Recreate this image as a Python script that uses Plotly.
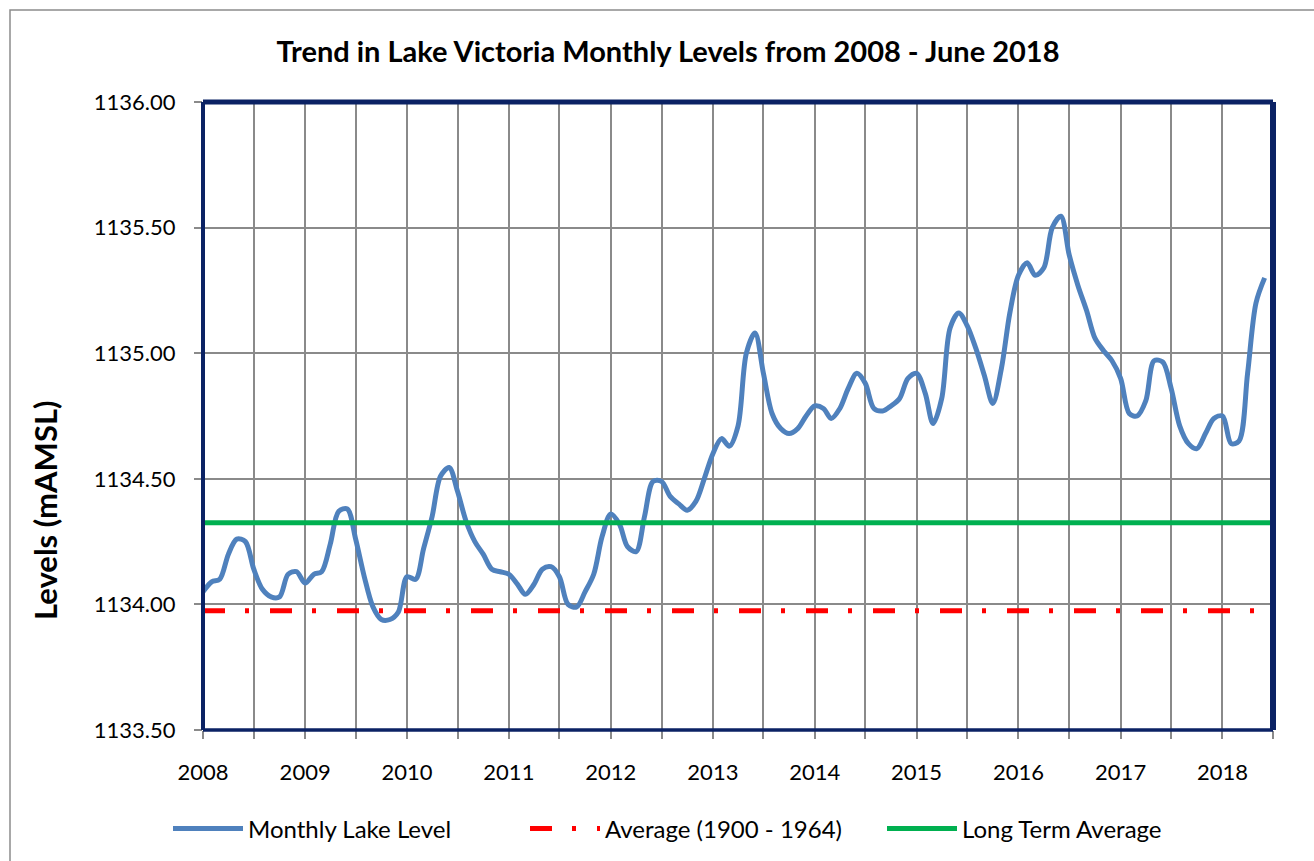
import pandas as pd
import plotly.graph_objects as go

# ---------------- data ----------------
start_month = "2008-01-01"
levels = [
    1134.05, 1134.09, 1134.10, 1134.20, 1134.26, 1134.25, 1134.14, 1134.06, 1134.03, 1134.03, 1134.12, 1134.13,
    1134.085, 1134.12, 1134.13, 1134.24, 1134.37, 1134.38, 1134.26, 1134.11, 1133.99, 1133.94, 1133.94, 1133.97,
    1134.11, 1134.10, 1134.22, 1134.35, 1134.51, 1134.545, 1134.45, 1134.33, 1134.25, 1134.20, 1134.14, 1134.13,
    1134.12, 1134.08, 1134.04, 1134.08, 1134.14, 1134.15, 1134.11, 1134.00, 1133.99, 1134.05, 1134.12, 1134.27,
    1134.36, 1134.32, 1134.23, 1134.21, 1134.35, 1134.49, 1134.49, 1134.43, 1134.40, 1134.375, 1134.41, 1134.50,
    1134.60, 1134.66, 1134.63, 1134.71, 1135.00, 1135.08, 1134.92, 1134.76, 1134.70, 1134.68, 1134.70, 1134.75,
    1134.79, 1134.78, 1134.74, 1134.78, 1134.86, 1134.92, 1134.88, 1134.78, 1134.77, 1134.79, 1134.82, 1134.90,
    1134.92, 1134.84, 1134.72, 1134.82, 1135.10, 1135.16, 1135.11, 1135.02, 1134.91, 1134.80, 1134.94, 1135.16,
    1135.31, 1135.36, 1135.31, 1135.34, 1135.50, 1135.545, 1135.39, 1135.27, 1135.17, 1135.06, 1135.01, 1134.97,
    1134.90, 1134.76, 1134.75, 1134.81, 1134.97, 1134.965, 1134.86, 1134.71, 1134.64, 1134.62, 1134.68, 1134.74,
    1134.75, 1134.64, 1134.65, 1134.92, 1135.20, 1135.30,
]
average_1900_1964 = 1133.975
long_term_average = 1134.325
axis_start = "2008-01-01"
axis_end = "2018-07-01"
y_ticks = [1133.5, 1134.0, 1134.5, 1135.0, 1135.5, 1136.0]
series_names = ["Monthly Lake Level", "Average (1900 - 1964)", "Long Term Average"]
title_text = "Trend in Lake Victoria Monthly Levels from 2008 - June 2018"
y_title = "Levels (mAMSL)"

# ---------------- derived ----------------
dates = pd.date_range(start_month, periods=len(levels), freq="MS")
grid_dates = pd.date_range(axis_start, axis_end, freq="6MS")
tick_text = [str(d.year) if d.month == 1 else "" for d in grid_dates]

W, H = 1314, 861
L, R, T, B = 203, 41, 102, 131
PW, PH = W - L - R, H - T - B


def px(xp):
    return (xp - L) / PW


def py(yp):
    return (H - B - yp) / PH


FONT = "Lato"
NAVY = "#0B2264"
GRID = "#8A8A8A"

fig = go.Figure()
fig.add_trace(go.Scatter(
    x=dates, y=levels, mode="lines", name=series_names[0],
    line=dict(color="#4F81BD", width=5, shape="spline", smoothing=0.9),
))
fig.add_trace(go.Scatter(
    x=[dates[0], pd.Timestamp(axis_end)], y=[average_1900_1964] * 2, mode="lines",
    name=series_names[1],
    line=dict(color="#FF0000", width=5, dash="22px,20px,4px,21px"),
))
fig.add_trace(go.Scatter(
    x=[dates[0], pd.Timestamp(axis_end)], y=[long_term_average] * 2, mode="lines",
    name=series_names[2],
    line=dict(color="#00B050", width=5),
))

fig.update_layout(
    width=W, height=H,
    margin=dict(l=L, r=R, t=T, b=B, autoexpand=False),
    paper_bgcolor="white", plot_bgcolor="white",
    font=dict(family=FONT, size=22, color="black"),
    title=dict(text="<b>" + title_text + "</b>", xref="container", x=668 / W, xanchor="center",
               yref="container", y=1 - 52 / H, yanchor="middle",
               font=dict(family=FONT, size=29, color="black")),
    showlegend=True,
    legend=dict(orientation="h", x=px(168), xanchor="left", y=py(829), yanchor="middle",
                font=dict(family=FONT, size=24), itemwidth=70, entrywidth=272,
                entrywidthmode="pixels", bgcolor="rgba(0,0,0,0)"),
    xaxis=dict(
        type="date", range=[axis_start, axis_end],
        tickmode="array", tickvals=grid_dates, ticktext=tick_text,
        showgrid=True, gridcolor=GRID, gridwidth=1.5,
        ticks="outside", ticklen=8, tickcolor=GRID, tickwidth=1.5,
        showline=False, zeroline=False, ticklabelstandoff=15,
        tickfont=dict(family=FONT, size=22),
    ),
    yaxis=dict(
        range=[1133.5, 1136.0], tickmode="array", tickvals=y_ticks,
        ticktext=[f"{v:.2f}" for v in y_ticks],
        showgrid=True, gridcolor=GRID, gridwidth=1.5,
        ticks="outside", ticklen=8, tickcolor=GRID, tickwidth=1.5,
        showline=False, zeroline=False, ticklabelstandoff=14,
        tickfont=dict(family=FONT, size=22),
    ),
    annotations=[dict(
        text="<b>" + y_title + "</b>", xref="paper", yref="paper",
        x=px(45), y=py(510), xanchor="center", yanchor="middle",
        textangle=-90, showarrow=False, font=dict(family=FONT, size=31, color="black"),
    )],
    shapes=[
        # outer chart border
        dict(type="rect", xref="paper", yref="paper", x0=px(10), y0=py(10), x1=px(1330), y1=py(880),
             line=dict(color="#8C8C8C", width=1.5), layer="below"),
        # plot frame
        dict(type="line", xref="paper", yref="paper", x0=0, x1=1, y0=1, y1=1,
             line=dict(color=NAVY, width=5), layer="above"),
        dict(type="line", xref="paper", yref="paper", x0=1, x1=1, y0=0, y1=1,
             line=dict(color=NAVY, width=6), layer="above"),
        dict(type="line", xref="paper", yref="paper", x0=0, x1=1, y0=0, y1=0,
             line=dict(color=NAVY, width=3.5), layer="above"),
        dict(type="line", xref="paper", yref="paper", x0=0, x1=0, y0=0, y1=1,
             line=dict(color=NAVY, width=4), layer="above"),
    ],
)

fig.write_html("out.html", config={"displayModeBar": False},
               post_script="document.body.style.margin='0';")
